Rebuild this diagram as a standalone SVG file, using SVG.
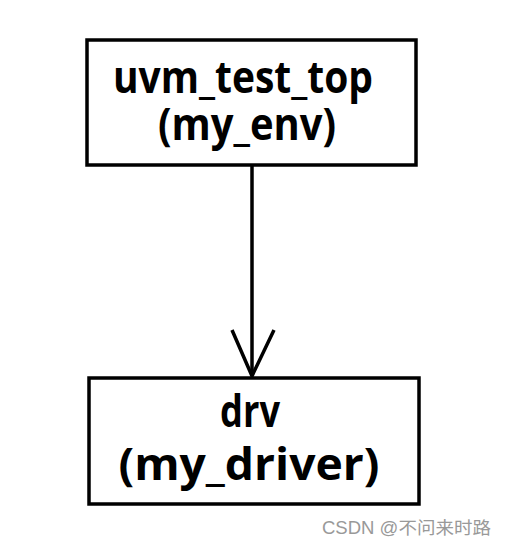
<svg xmlns="http://www.w3.org/2000/svg" width="508" height="549" viewBox="0 0 508 549">
<style>
.box{fill:#fff;stroke:#000;stroke-width:3.5}
.t{font-family:"Open Sans","Liberation Sans",sans-serif;font-weight:bold;font-size:44px;fill:#000;text-anchor:middle}
.c{fill:none;stroke:#000;stroke-width:3.5}
.wm{font-family:"Liberation Sans","Noto Sans CJK SC",sans-serif;font-size:17.5px;fill:#999}
</style>
<rect width="508" height="549" fill="#fff"/>
<g id="connectors">
<line class="c" x1="252" y1="165" x2="252" y2="376"/>
<polyline class="c" points="232,330 252,376 274,330"/>
</g>
<g id="uvm_test_top">
<rect class="box" x="87" y="40" width="329" height="125"/>
<text class="t" x="243" y="93" textLength="260" lengthAdjust="spacingAndGlyphs">uvm_test_top</text>
<text class="t" x="247" y="140" textLength="178" lengthAdjust="spacingAndGlyphs">(my_env)</text>
</g>
<g id="drv">
<rect class="box" x="89" y="378" width="330" height="126"/>
<text class="t" x="250" y="427" textLength="60" lengthAdjust="spacingAndGlyphs">drv</text>
<text class="t" x="249" y="480" textLength="261" lengthAdjust="spacingAndGlyphs">(my_driver)</text>
</g>
<text class="wm" x="322" y="534" textLength="169" lengthAdjust="spacingAndGlyphs">CSDN @不问来时路</text>
</svg>
